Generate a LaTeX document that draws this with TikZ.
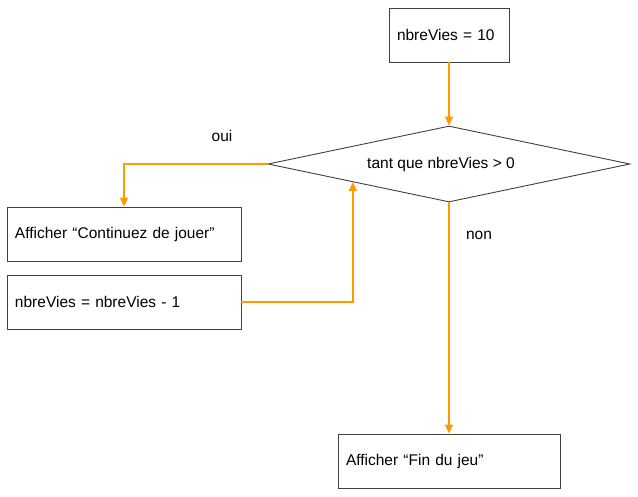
\documentclass[tikz,border=0pt]{standalone}
\usepackage{fontspec}
\setmainfont{Liberation Sans}
\usetikzlibrary{positioning, arrows.meta, shapes.geometric, calc}
\definecolor{flow}{HTML}{FF9900}
\definecolor{edge}{HTML}{404040}

\begin{document}
\begin{tikzpicture}[
	x=1pt, y=-1pt,
	% Style for the instruction boxes
	procbox/.style={
		rectangle,
		draw=edge,
		line width=0.9pt,
		fill=white,
		text width=#1,
		inner xsep=8pt,
		align=left,
		font=\fontsize{15.5}{18}\selectfont,
		minimum height=54pt
	},
	% Style for the loop condition
	testbox/.style={
		diamond,
		draw=edge,
		line width=0.9pt,
		fill=white,
		aspect=4.76,
		inner sep=0pt,
		minimum width=362pt,
		minimum height=76pt,
		font=\fontsize{15.5}{18}\selectfont
	},
	% Style for the yes / no labels
	answer/.style={
		font=\fontsize{15.5}{18}\selectfont
	},
	link/.style={
		draw=flow,
		line width=1.8pt,
		-{Triangle[length=9pt, width=8pt]}
	}
	]
	\useasboundingbox (0,0) rectangle (638,496);
	
	% Boxes and condition placed at coordinates
	\node[procbox=104pt] (init) at (449,35) {nbreVies = 10};
	\node[testbox] (cond) at (449,164) {\hspace*{-16pt}tant que nbreVies > 0};
	\node[procbox=218pt] (aff) at (124,234) {Afficher “Continuez de jouer”};
	\node[procbox=218pt] (dec) at (124,302) {nbreVies = nbreVies - 1};
	\node[procbox=206pt] (fin) at (449,461) {Afficher “Fin du jeu”};
	
	\node[answer] (oui) at (222,136) {oui};
	\node[answer] (non) at (479,235) {non};
	
	\coordinate (back) at ($(cond.west)!0.47!(cond.south)$);
	
	% Connectors
	\draw[link] (init.south) -- (cond.north);
	\draw[link] (cond.west) -| (aff.north);
	\draw[link] (dec.east) -| (back);
	\draw[link] (cond.south) -- (fin.north);
	
\end{tikzpicture}
\end{document}
